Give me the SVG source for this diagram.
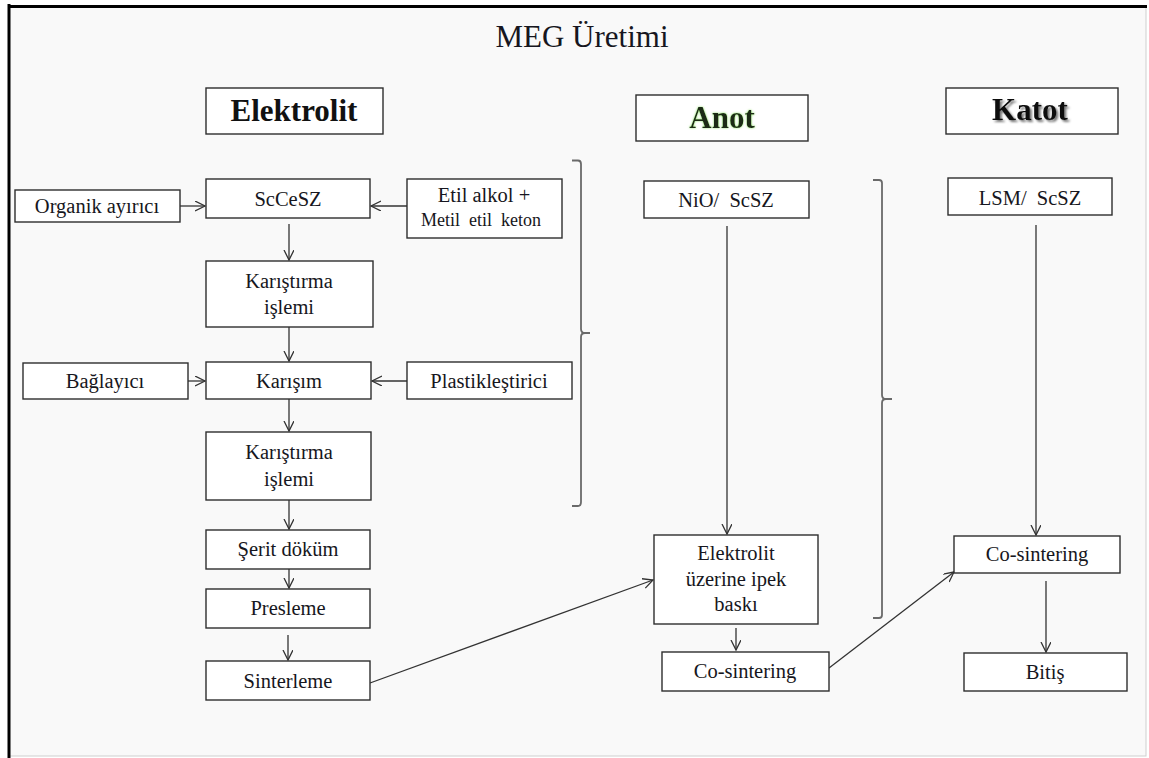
<svg xmlns="http://www.w3.org/2000/svg" width="1149" height="758" viewBox="0 0 1149 758">
<defs>
<style>
.bx{fill:#ffffff;stroke:#2e2e2e;stroke-width:1.4}
.t{font-family:"Liberation Serif","Times New Roman",serif;font-size:20.5px;fill:#161620;text-anchor:middle}
.hd{font-family:"Liberation Serif","Times New Roman",serif;font-size:31px;font-weight:bold;fill:#111;text-anchor:middle}
.c{fill:none;stroke:#333;stroke-width:1.3}
.br{fill:none;stroke:#6a6a6a;stroke-width:1.8}
</style>
<marker id="ar" markerUnits="userSpaceOnUse" markerWidth="12" markerHeight="12" refX="10" refY="5" orient="auto">
<path d="M0,0 L10,5 L0,10" fill="none" stroke="#333" stroke-width="1.3"/>
</marker>
<filter id="glow" x="-20%" y="-20%" width="140%" height="140%">
<feGaussianBlur in="SourceAlpha" stdDeviation="1.2" result="b"/>
<feFlood flood-color="#8fe06a" result="f"/>
<feComposite in="f" in2="b" operator="in" result="g"/>
<feMerge><feMergeNode in="g"/><feMergeNode in="SourceGraphic"/></feMerge>
</filter>
<filter id="shadow" x="-20%" y="-20%" width="140%" height="140%">
<feGaussianBlur in="SourceAlpha" stdDeviation="1.3" result="b"/>
<feOffset in="b" dx="1.5" dy="1.5" result="o"/>
<feFlood flood-color="#777" result="f"/>
<feComposite in="f" in2="o" operator="in" result="s"/>
<feMerge><feMergeNode in="s"/><feMergeNode in="SourceGraphic"/></feMerge>
</filter>
</defs>
<rect x="0" y="0" width="1149" height="758" fill="#ffffff"/>
<rect x="9" y="6" width="1137" height="750" fill="#f9f9f9" stroke="#cfcfcf" stroke-width="1"/>
<line x1="9" y1="4" x2="9" y2="758" stroke="#000" stroke-width="3"/>
<line x1="8" y1="6.5" x2="1147" y2="6.5" stroke="#000" stroke-width="3"/>

<text x="582" y="47" class="t" style="font-size:31px">MEG Üretimi</text>

<g id="connectors">
<line class="c" x1="180" y1="206" x2="205" y2="206" marker-end="url(#ar)"/>
<line class="c" x1="407" y1="206" x2="371" y2="206" marker-end="url(#ar)"/>
<line class="c" x1="289" y1="224" x2="289" y2="260" marker-end="url(#ar)"/>
<line class="c" x1="289" y1="327" x2="289" y2="361" marker-end="url(#ar)"/>
<line class="c" x1="188" y1="381" x2="205" y2="381" marker-end="url(#ar)"/>
<line class="c" x1="407" y1="381" x2="372" y2="381" marker-end="url(#ar)"/>
<line class="c" x1="289" y1="399" x2="289" y2="431" marker-end="url(#ar)"/>
<line class="c" x1="289" y1="500" x2="289" y2="529" marker-end="url(#ar)"/>
<line class="c" x1="289" y1="549" x2="289" y2="588" marker-end="url(#ar)"/>
<line class="c" x1="288" y1="635" x2="288" y2="660" marker-end="url(#ar)"/>
<line class="c" x1="370" y1="683" x2="653" y2="580" marker-end="url(#ar)"/>
<line class="c" x1="727" y1="226" x2="727" y2="534" marker-end="url(#ar)"/>
<line class="c" x1="736" y1="628" x2="736" y2="650" marker-end="url(#ar)"/>
<line class="c" x1="829" y1="668" x2="954" y2="572" marker-end="url(#ar)"/>
<line class="c" x1="1036" y1="225" x2="1036" y2="535" marker-end="url(#ar)"/>
<line class="c" x1="1046" y1="581" x2="1046" y2="652" marker-end="url(#ar)"/>
<path class="br" d="M572,160.5 H578 Q581,160.5 581,164 V329 Q581,333 585,333 H590 M585,333 Q581,333 581,337 V502 Q581,506 578,506 H572"/>
<path class="br" d="M873,180 H879 Q882,180 882,183 V395 Q882,399 886,399 H892 M886,399 Q882,399 882,403 V615 Q882,618 879,618 H873"/>
</g>

<g id="h-elektrolit"><rect class="bx" x="206" y="88" width="177" height="46"/><text class="hd" x="294" y="121">Elektrolit</text></g>
<g id="h-anot"><rect class="bx" x="636" y="95" width="172" height="46"/><text class="hd" x="722" y="128" style="fill:#1b2a14" filter="url(#glow)">Anot</text></g>
<g id="h-katot"><rect class="bx" x="946" y="88" width="172" height="46"/><text class="hd" x="1030" y="120" filter="url(#shadow)">Katot</text></g>

<g id="n-organik"><rect class="bx" x="15" y="190" width="165" height="32"/><text class="t" x="97" y="213">Organik ayırıcı</text></g>
<g id="n-sccesz"><rect class="bx" x="206" y="179" width="164" height="39"/><text class="t" x="288" y="206">ScCeSZ</text></g>
<g id="n-etil"><rect class="bx" x="407" y="179" width="155" height="59"/><text class="t" x="484" y="202">Etil alkol +</text><text class="t" x="481" y="226" xml:space="preserve" style="font-size:18px;white-space:pre">Metil  etil  keton</text></g>
<g id="n-karistirma1"><rect class="bx" x="206" y="261" width="167" height="66"/><text class="t" x="289" y="288">Karıştırma</text><text class="t" x="289" y="314">işlemi</text></g>
<g id="n-baglayici"><rect class="bx" x="23" y="363" width="165" height="36"/><text class="t" x="105" y="388">Bağlayıcı</text></g>
<g id="n-karisim"><rect class="bx" x="206" y="362" width="165" height="37"/><text class="t" x="289" y="388">Karışım</text></g>
<g id="n-plastik"><rect class="bx" x="407" y="362" width="165" height="37"/><text class="t" x="489" y="388">Plastikleştirici</text></g>
<g id="n-karistirma2"><rect class="bx" x="206" y="432" width="165" height="68"/><text class="t" x="289" y="459">Karıştırma</text><text class="t" x="289" y="486">işlemi</text></g>
<g id="n-serit"><rect class="bx" x="206" y="530" width="164" height="39"/><text class="t" x="288" y="556">Şerit döküm</text></g>
<g id="n-presleme"><rect class="bx" x="206" y="589" width="164" height="39"/><text class="t" x="288" y="615">Presleme</text></g>
<g id="n-sinterleme"><rect class="bx" x="206" y="661" width="164" height="39"/><text class="t" x="288" y="688">Sinterleme</text></g>
<g id="n-nio"><rect class="bx" x="644" y="181" width="165" height="37"/><text class="t" x="726" y="207" xml:space="preserve" style="white-space:pre">NiO/  ScSZ</text></g>
<g id="n-lsm"><rect class="bx" x="948" y="178" width="164" height="37"/><text class="t" x="1030" y="205" xml:space="preserve" style="white-space:pre">LSM/  ScSZ</text></g>
<g id="n-ipek"><rect class="bx" x="654" y="535" width="164" height="89"/><text class="t" x="736" y="560">Elektrolit</text><text class="t" x="736" y="586">üzerine ipek</text><text class="t" x="736" y="611">baskı</text></g>
<g id="n-cosint-a"><rect class="bx" x="662" y="652" width="167" height="39"/><text class="t" x="745" y="678">Co-sintering</text></g>
<g id="n-cosint-k"><rect class="bx" x="954" y="536" width="166" height="37"/><text class="t" x="1037" y="561">Co-sintering</text></g>
<g id="n-bitis"><rect class="bx" x="964" y="653" width="163" height="38"/><text class="t" x="1045" y="679">Bitiş</text></g>
</svg>
